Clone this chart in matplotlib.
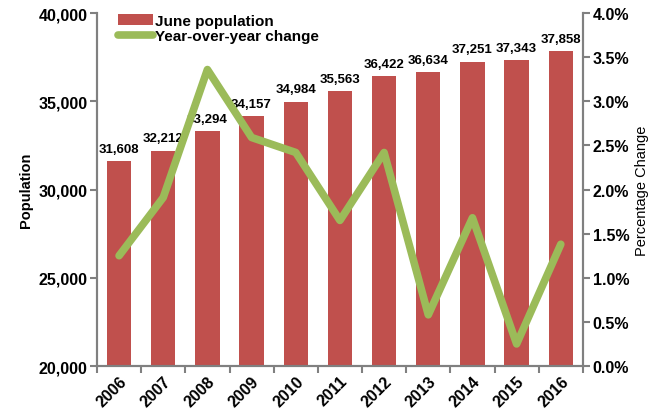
import matplotlib
matplotlib.use("Agg")
import matplotlib.pyplot as plt
from matplotlib.ticker import FuncFormatter, FixedLocator
from matplotlib.transforms import ScaledTranslation

plt.rcParams['font.family'] = ['Liberation Sans', 'DejaVu Sans']

years = ['2006', '2007', '2008', '2009', '2010', '2011',
         '2012', '2013', '2014', '2015', '2016']
population = [31608, 32212, 33294, 34157, 34984, 35563,
              36422, 36634, 37251, 37343, 37858]
yoy_change = [1.25, 1.91, 3.36, 2.59, 2.42, 1.65,
              2.42, 0.58, 1.68, 0.25, 1.38]

bar_color = '#C0504D'
line_color = '#9BBB59'
axis_color = '#808080'

fig = plt.figure(figsize=(6.62, 4.14), dpi=100)
ax = fig.add_axes([0.1465, 0.1135, 0.734, 0.8525])
ax2 = ax.twinx()

x = list(range(len(years)))
bars = ax.bar(x, population, width=0.55, color=bar_color, label='June population', zorder=2)
ax.set_ylim(20000, 40000)
ax.set_xlim(-0.5, len(years) - 0.5)
ax.set_yticks(range(20000, 40001, 5000))
ax.yaxis.set_major_formatter(FuncFormatter(lambda v, p: f"{int(v):,}"))

# category labels centred, tick marks on the boundaries
ax.set_xticks(x)
ax.set_xticklabels(years, rotation=45, ha='right', rotation_mode='anchor',
                   fontsize=11.5, fontweight='bold')
shift = ScaledTranslation(4 / 72, 0, fig.dpi_scale_trans)
for lbl in ax.get_xticklabels():
    lbl.set_transform(lbl.get_transform() + shift)
ax.tick_params(axis='x', which='major', length=0, pad=5)
ax.xaxis.set_minor_locator(FixedLocator([i - 0.5 for i in range(len(years) + 1)]))
ax.tick_params(axis='x', which='minor', length=5, width=1.5, color=axis_color)

for lbl in ax.get_yticklabels():
    lbl.set_fontweight('bold')
    lbl.set_fontsize(11.5)
ax.tick_params(axis='y', length=5, width=1.5, color=axis_color, pad=2)

for b, v in zip(bars, population):
    ax.text(b.get_x() + b.get_width() / 2, v + 350, f"{v:,}", ha='center', va='bottom',
            fontsize=9.5, fontweight='bold', zorder=10)

ax.set_ylabel('Population', fontsize=10.5, fontweight='bold', labelpad=4)

ax2.plot(x, yoy_change, color=line_color, linewidth=5.5, solid_capstyle='round',
         label='Year-over-year change', zorder=3)
ax2.set_ylim(0, 4.0)
ax2.set_yticks([i * 0.5 for i in range(9)])
ax2.yaxis.set_major_formatter(FuncFormatter(lambda v, p: f"{v:.1f}%"))
for lbl in ax2.get_yticklabels():
    lbl.set_fontweight('bold')
    lbl.set_fontsize(11.5)
ax2.tick_params(axis='y', length=5, width=1.5, color=axis_color, pad=2)
ax2.set_ylabel('Percentage Change', fontsize=10.5, labelpad=4)

for a in (ax, ax2):
    a.spines['top'].set_visible(False)
    for s in ('left', 'right', 'bottom'):
        a.spines[s].set_color(axis_color)
        a.spines[s].set_linewidth(1.5)

h1, l1 = ax.get_legend_handles_labels()
h2, l2 = ax2.get_legend_handles_labels()
leg = ax2.legend(h1 + h2, l1 + l2, loc='upper left', bbox_to_anchor=(0.03, 1.015),
                 frameon=False, prop={'weight': 'bold', 'size': 11},
                 handlelength=2.3, handletextpad=0.15, labelspacing=0.1, borderaxespad=0)

fig.savefig('out.png', dpi=100)
